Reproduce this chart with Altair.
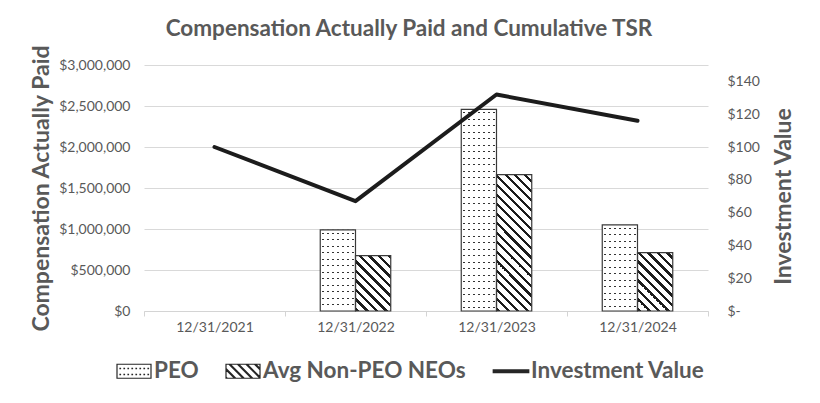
import altair as alt
import pandas as pd

# ---------------- data ----------------
YEARS = ["12/31/2021", "12/31/2022", "12/31/2023", "12/31/2024"]
PEO = [None, 990000, 2460000, 1050000]
AVG_NEO = [None, 675000, 1662000, 712000]
INVESTMENT = [100, 67, 132, 116]
SERIES = ["PEO", "Avg Non-PEO NEOs"]
LEGEND_NAMES = ["PEO", "Avg Non-PEO NEOs", "Investment Value"]
LEFT_TICKS = [0, 500000, 1000000, 1500000, 2000000, 2500000, 3000000]
RIGHT_TICKS = [0, 20, 40, 60, 80, 100, 120, 140]

rows = []
for yr, p, a in zip(YEARS, PEO, AVG_NEO):
    if p is not None:
        rows.append({"year": yr, "series": SERIES[0], "value": p})
    if a is not None:
        rows.append({"year": yr, "series": SERIES[1], "value": a})
bars_df = pd.DataFrame(rows)
line_df = pd.DataFrame({"year": YEARS, "inv": INVESTMENT})
legend_df = pd.DataFrame({"name": LEGEND_NAMES})

# ---------------- layout / style ----------------
FONT = "Lato"
GREY = "#595959"
INK = "#1c1c1c"
PLOT_W, PLOT_H = 564, 246
Y_MAX = 3000000
R_MAX = 150
STEP = PLOT_W / len(YEARS)
OFF_PAD = 1
BAR_W = STEP / (2 + 2 * OFF_PAD)


def stripe_stops(length, period, width, phase, on, off):
    st = [alt.GradientStop(offset=0, color=off)]
    a = phase - period * (int(length / period) + 2)
    while a < length:
        b = a + width
        if b > 0:
            a0 = max(a, 0) / length
            b0 = min(b, length) / length
            st += [alt.GradientStop(offset=a0, color=off),
                   alt.GradientStop(offset=a0, color=on),
                   alt.GradientStop(offset=b0, color=on),
                   alt.GradientStop(offset=b0, color=off)]
        a += period
    st.append(alt.GradientStop(offset=1, color=off))
    return st


def dots_columns():
    return alt.LinearGradient(gradient="linear", x1=0, y1=0, x2=1, y2=0,
                              stops=stripe_stops(BAR_W, 5, 1.1, 2.2, "#333333", "white"))


def dots_mask(h):
    return alt.LinearGradient(gradient="linear", x1=0, y1=0, x2=0, y2=1,
                              stops=stripe_stops(h, 6.5, 1.1, 3.0, "rgba(255,255,255,0)", "white"))


def hatch(h):
    w = BAR_W
    k = (w + h) / (w * w + h * h)
    return alt.LinearGradient(gradient="linear", x1=0, y1=1, x2=k * w, y2=1 - k * h,
                              stops=stripe_stops(w + h, 9.5, 3.2, 1.0, INK, "white"))


x_enc = alt.X("year:N", scale=alt.Scale(domain=YEARS, paddingInner=0, paddingOuter=0),
              axis=alt.Axis(title=None, tickBand="extent", labelAngle=0, domainColor="#d4d4d4",
                            tickColor="#d4d4d4", tickSize=5, labelPadding=4, labelFont=FONT,
                            labelFontSize=14, labelColor=GREY))
xo_enc = alt.XOffset("series:N", scale=alt.Scale(domain=SERIES, paddingInner=0, paddingOuter=OFF_PAD))
y_enc = alt.Y("value:Q", scale=alt.Scale(domain=[0, Y_MAX]),
              axis=alt.Axis(values=LEFT_TICKS, format="$,.0f", grid=True, gridColor="#d9d9d9",
                            domain=False, ticks=False, labelPadding=14, labelFont=FONT,
                            labelFontSize=14, labelColor=GREY, title="Compensation Actually Paid",
                            titleFont=FONT, titleFontSize=23, titleFontWeight="bold",
                            titleColor=GREY, titleAngle=270, titleX=-103, titleBaseline="middle"))

base = alt.Chart(bars_df).encode(x=x_enc, xOffset=xo_enc, y=y_enc)

layers = [
    base.transform_filter(f"datum.series == '{SERIES[0]}'").mark_bar(fill=dots_columns(), strokeWidth=0)
]
for yr, p in zip(YEARS, PEO):
    if p is not None:
        layers.append(base.transform_filter(f"datum.series == '{SERIES[0]}' && datum.year == '{yr}'")
                      .mark_bar(fill=dots_mask(p / Y_MAX * PLOT_H), strokeWidth=0))
for yr, a in zip(YEARS, AVG_NEO):
    if a is not None:
        layers.append(base.transform_filter(f"datum.series == '{SERIES[1]}' && datum.year == '{yr}'")
                      .mark_bar(fill=hatch(a / Y_MAX * PLOT_H), strokeWidth=0))
layers.append(base.mark_bar(fill="transparent", stroke="#3a3a3a", strokeWidth=1.2))

# ---------- legend symbols (custom paths in a -1..1 box, 17 px per unit) ----------
U = 17.0
HH = 7.0


def f(v):
    return f"{v / U:.3f}"


rect = f"M-1,{f(-HH)}L1,{f(-HH)}L1,{f(HH)}L-1,{f(HH)}Z"
dots_path = rect
for cx in [-14, -10, -6, -2, 2, 6, 10, 14]:
    for cy in [-3.0, 3.0]:
        dots_path += f"M{f(cx)},{f(cy)}L{f(cx + 0.5)},{f(cy)}L{f(cx + 0.5)},{f(cy + 0.5)}L{f(cx)},{f(cy + 0.5)}Z"
hatch_path = rect
x0 = -17 - 2 * HH
while x0 < 17:
    for d in (0.0, 1.2):
        xs, ys = x0 + d, -HH
        xe, ye = x0 + d + 2 * HH, HH
        if xs < -17:
            ys += (-17 - xs)
            xs = -17
        if xe > 17:
            ye -= (xe - 17)
            xe = 17
        if xe > xs:
            hatch_path += f"M{f(xs)},{f(ys)}L{f(xe)},{f(ye)}"
    x0 += 8.5
line_path = "".join(f"M-1.08,{y:.3f}L1.08,{y:.3f}" for y in (-0.08, -0.04, 0.0, 0.04, 0.08))

legend_layer = alt.Chart(legend_df).mark_point(
    filled=False, color="#262626", strokeWidth=1.2, opacity=0
).encode(
    shape=alt.Shape("name:N", scale=alt.Scale(domain=LEGEND_NAMES, range=[dots_path, hatch_path, line_path]),
                    legend=alt.Legend(title=None, orient="none", legendX=-28, legendY=288,
                                      direction="horizontal", symbolSize=1156, symbolOpacity=1,
                                      symbolStrokeWidth=1.2, symbolFillColor="white",
                                      symbolStrokeColor="#262626", labelFont=FONT, labelFontSize=22.5,
                                      labelFontWeight="bold", labelColor=GREY, labelOffset=2,
                                      labelLimit=400, columnPadding=24, padding=0))
)
layers.append(legend_layer)

bars = alt.layer(*layers)

line = alt.Chart(line_df).mark_line(color=INK, strokeWidth=4, strokeJoin="round", strokeCap="round").encode(
    x=alt.X("year:N"),
    y=alt.Y("inv:Q", scale=alt.Scale(domain=[0, R_MAX]),
            axis=alt.Axis(orient="right", values=RIGHT_TICKS,
                          labelExpr="datum.value == 0 ? '$-' : '$' + datum.value",
                          grid=False, domain=False, ticks=False, labelPadding=19, labelFont=FONT,
                          labelFontSize=14, labelColor=GREY, title="Investment Value", titleFont=FONT,
                          titleFontSize=23, titleFontWeight="bold", titleColor=GREY, titleAngle=270,
                          titleX=75, titleY=131, titleBaseline="middle")),
)

chart = alt.layer(bars, line).resolve_scale(y="independent").properties(
    width=PLOT_W, height=PLOT_H,
    padding={"left": 136, "top": 57, "right": 104, "bottom": 84},
    autosize=alt.AutoSizeParams(type="none"),
    title=alt.TitleParams(text="Compensation Actually Paid and Cumulative TSR", font=FONT, fontSize=22.5,
                          fontWeight="bold", color=GREY, anchor="middle", offset=4, dx=-17),
).configure_view(stroke=None)

chart.save("out.html", embed_options={"renderer": "svg", "actions": False})
